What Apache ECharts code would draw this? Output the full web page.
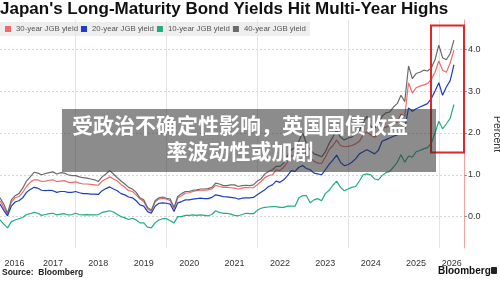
<!DOCTYPE html>
<html>
<head>
<meta charset="utf-8">
<script src="https://cdn.jsdelivr.net/npm/echarts@6/dist/echarts.min.js"></script>
<style>
  html, body { margin: 0; padding: 0; background: #fff; }
  #chart { width: 500px; height: 281px; }
</style>
</head>
<body>
<div id="chart"></div>
<script>
// monthly readings, May 2016 .. May 2026
const firstMonth = { year: 2016, month: 5 };

const yield30 = [
  0.38, 0.22, 0.05, 0.35, 0.45, 0.48, 0.58, 0.72,
  0.82, 0.88, 0.88, 0.84, 0.85, 0.87, 0.88, 0.84, 0.85, 0.86, 0.82, 0.82,
  0.83, 0.80, 0.78, 0.78, 0.77, 0.76, 0.75, 0.85, 0.90, 0.95, 0.90, 0.85,
  0.77, 0.70, 0.62, 0.60, 0.52, 0.42, 0.36, 0.18, 0.12, 0.35, 0.42, 0.44,
  0.42, 0.38, 0.18, 0.45, 0.50, 0.56, 0.57, 0.60, 0.62, 0.63, 0.63, 0.64,
  0.66, 0.75, 0.72, 0.70, 0.70, 0.69, 0.68, 0.66, 0.68, 0.70, 0.69, 0.69,
  0.76, 0.84, 0.93, 0.98, 1.00, 1.12, 1.10, 1.18, 1.30, 1.45, 1.45, 1.58,
  1.62, 1.50, 1.43, 1.32, 1.28, 1.27, 1.42, 1.60, 1.70, 1.83, 1.70, 1.67,
  1.68, 1.70, 1.74, 1.80, 1.95, 2.02, 1.95, 1.90, 1.95, 2.10, 2.14, 2.18,
  2.22, 2.25, 2.45, 2.40, 3.20, 2.95, 3.08, 3.12, 3.15, 3.18, 3.28, 3.45,
  3.72, 3.50, 3.45, 3.67, 3.98
];
const yield20 = [
  0.30, 0.15, 0.02, 0.25, 0.35, 0.38, 0.45, 0.58,
  0.65, 0.70, 0.68, 0.63, 0.62, 0.63, 0.62, 0.58, 0.60, 0.60, 0.58, 0.58,
  0.60, 0.57, 0.55, 0.55, 0.54, 0.54, 0.53, 0.62, 0.67, 0.71, 0.66, 0.62,
  0.55, 0.52, 0.47, 0.45, 0.38, 0.28, 0.25, 0.12, 0.08, 0.25, 0.32, 0.33,
  0.32, 0.30, 0.12, 0.33, 0.36, 0.40, 0.40, 0.42, 0.43, 0.44, 0.43, 0.43,
  0.46, 0.52, 0.50, 0.48, 0.47, 0.46, 0.45, 0.42, 0.44, 0.45, 0.45, 0.46,
  0.52, 0.58, 0.64, 0.72, 0.76, 0.85, 0.82, 0.88, 0.98, 1.10, 1.08, 1.18,
  1.22, 1.15, 1.12, 1.04, 1.02, 1.00, 1.12, 1.25, 1.35, 1.47, 1.30, 1.22,
  1.24, 1.30, 1.38, 1.50, 1.55, 1.60, 1.55, 1.50, 1.58, 1.80, 1.84, 1.88,
  1.92, 1.95, 2.12, 2.10, 2.60, 2.52, 2.58, 2.62, 2.66, 2.70, 2.82, 3.00,
  3.20, 2.90, 3.10, 3.25, 3.63
];
const yield10 = [
  -0.08, -0.18, -0.27, -0.12, -0.08, -0.05, -0.02, 0.05,
  0.07, 0.10, 0.08, 0.03, 0.05, 0.07, 0.08, 0.04, 0.06, 0.07, 0.04, 0.05,
  0.08, 0.05, 0.04, 0.05, 0.04, 0.04, 0.05, 0.10, 0.12, 0.14, 0.11, 0.05,
  0.00, -0.03, -0.07, -0.04, -0.08, -0.15, -0.15, -0.25, -0.27, -0.15, -0.08, -0.05,
  -0.05, -0.10, -0.15, 0.00, 0.00, 0.03, 0.03, 0.04, 0.03, 0.04, 0.03, 0.02,
  0.05, 0.14, 0.10, 0.08, 0.08, 0.06, 0.03, 0.02, 0.05, 0.08, 0.07, 0.07,
  0.15, 0.20, 0.22, 0.23, 0.24, 0.24, 0.22, 0.22, 0.25, 0.25, 0.25, 0.45,
  0.50, 0.50, 0.33, 0.40, 0.43, 0.38, 0.55, 0.63, 0.75, 0.85, 0.70, 0.62,
  0.66, 0.70, 0.72, 0.85, 1.00, 1.02, 1.00, 0.90, 0.88, 0.98, 1.05, 1.08,
  1.18, 1.30, 1.48, 1.30, 1.45, 1.42, 1.55, 1.58, 1.62, 1.65, 1.75, 2.00,
  2.28, 2.10, 2.22, 2.35, 2.68
];
const yield40 = [
  0.45, 0.30, 0.08, 0.40, 0.50, 0.55, 0.68, 0.85,
  0.95, 1.06, 1.04, 1.00, 1.03, 1.05, 1.07, 1.02, 1.05, 1.04, 1.00, 0.98,
  0.98, 0.95, 0.93, 0.92, 0.90, 0.88, 0.84, 0.95, 1.02, 1.10, 1.02, 0.93,
  0.85, 0.78, 0.70, 0.66, 0.58, 0.45, 0.40, 0.22, 0.15, 0.38, 0.45, 0.47,
  0.44, 0.42, 0.22, 0.48, 0.55, 0.60, 0.60, 0.63, 0.64, 0.66, 0.66, 0.67,
  0.70, 0.80, 0.78, 0.74, 0.74, 0.76, 0.76, 0.72, 0.74, 0.75, 0.74, 0.76,
  0.85, 0.90, 1.02, 1.08, 1.12, 1.20, 1.20, 1.28, 1.45, 1.60, 1.65, 1.80,
  2.00, 1.75, 1.60, 1.50, 1.47, 1.43, 1.55, 1.75, 1.90, 2.07, 1.90, 1.83,
  1.88, 1.90, 1.98, 2.05, 2.25, 2.40, 2.15, 2.12, 2.20, 2.40, 2.48, 2.50,
  2.62, 2.70, 2.90, 2.75, 3.60, 3.30, 3.42, 3.45, 3.50, 3.48, 3.55, 3.75,
  4.10, 3.80, 3.75, 3.90, 4.22
];

const seriesNames = ['30-year JGB yield', '20-year JGB yield', '10-year JGB yield', '40-year JGB yield'];
const seriesColors = ['#f06a6a', '#1c3fc4', '#1fae84', '#6b6b6b'];
const yearLabels = [2016, 2017, 2018, 2019, 2020, 2021, 2022, 2023, 2024, 2025, 2026];
const gridYears = [2018, 2020, 2022, 2024, 2026];
const yTicks = [0, 1, 2, 3, 4];

const xMin = firstMonth.year + (firstMonth.month - 1) / 12;
const xMax = 2026.555;

// month index -> decimal year
const toPoints = (vals) => vals.map((v, i) => [xMin + i / 12, v]);

// year labels sit mid-year, pulled in at the edges
const labelValues = yearLabels.map((y) => Math.min(Math.max(y + 0.5, xMin + 0.32), xMax - 0.27));

const chart = echarts.init(document.getElementById('chart'));

chart.setOption({
  animation: false,
  textStyle: { fontFamily: 'Liberation Sans' },
  title: {
    text: "Japan's Long-Maturity Bond Yields Hit Multi-Year Highs",
    left: 0,
    top: 1,
    padding: 0,
    textStyle: { fontSize: 17, fontWeight: 'bold', color: '#111', fontFamily: 'Liberation Sans' }
  },
  legend: {
    data: seriesNames,
    left: 0,
    top: 22,
    padding: [3, 4, 3, 5],
    backgroundColor: 'rgba(232,232,232,0.75)',
    icon: 'rect',
    itemWidth: 6,
    itemHeight: 6,
    itemGap: 3,
    selectedMode: false,
    textStyle: { fontSize: 7.8, color: '#555', fontFamily: 'Liberation Sans' }
  },
  grid: { left: 0, right: 36, top: 20, bottom: 33, outerBoundsMode: 'none', containLabel: false },
  xAxis: {
    type: 'value',
    min: xMin,
    max: xMax,
    axisLine: { show: false },
    axisTick: { show: false, customValues: gridYears },
    splitLine: { show: true, lineStyle: { color: '#e4e4e4', width: 1 } },
    axisLabel: {
      customValues: labelValues,
      formatter: (v) => String(Math.floor(v)),
      fontSize: 9,
      color: '#333',
      margin: 11
    }
  },
  yAxis: {
    type: 'value',
    position: 'right',
    min: -0.75,
    max: 4.7,
    name: 'Percent',
    nameLocation: 'middle',
    nameRotate: -90,
    nameGap: 21,
    nameTextStyle: { fontSize: 10.5, color: '#333' },
    axisLine: { show: true, lineStyle: { color: '#f3a0a0', width: 1 } },
    axisTick: { show: true, length: 3, lineStyle: { color: '#999' }, customValues: yTicks },
    axisLabel: {
      customValues: yTicks,
      formatter: (v) => v.toFixed(1),
      fontSize: 9,
      color: '#333',
      margin: 4
    },
    splitLine: { show: true, lineStyle: { color: '#d6d6d6', type: [2, 2] } }
  },
  series: [yield30, yield20, yield10, yield40].map((vals, i) => ({
    name: seriesNames[i],
    type: 'line',
    data: toPoints(vals),
    color: seriesColors[i],
    showSymbol: false,
    lineStyle: { width: 1.2, color: seriesColors[i] }
  })),
  graphic: [
    {
      type: 'rect', z: 100,
      shape: { x: 431, y: 25.5, width: 33, height: 127 },
      style: { fill: 'none', stroke: '#e0262b', lineWidth: 2 }
    },
    {
      type: 'rect', z: 110,
      shape: { x: 62, y: 109, width: 374, height: 63 },
      style: { fill: 'rgba(45,45,45,0.55)' }
    },
    {
      type: 'text', z: 120,
      style: {
        x: 240, y: 112,
        text: '受政治不确定性影响，英国国债收益\n率波动性或加剧',
        textAlign: 'center',
        fill: '#fff',
        font: 'bold 21px "Noto Sans CJK SC"',
        lineHeight: 26
      }
    },
    {
      type: 'text', z: 100,
      style: { x: 2, y: 268, text: 'Source:  Bloomberg', fill: '#222', font: 'bold 8.5px "Liberation Sans"' }
    },
    {
      type: 'text', z: 100,
      style: { x: 438, y: 266, text: 'Bloomberg', fill: '#111', font: 'bold 10px "Liberation Sans"' }
    },
    {
      type: 'rect', z: 100,
      shape: { x: 491, y: 267, width: 6, height: 7, r: 1 },
      style: { fill: '#222' }
    }
  ]
});
</script>
</body>
</html>
